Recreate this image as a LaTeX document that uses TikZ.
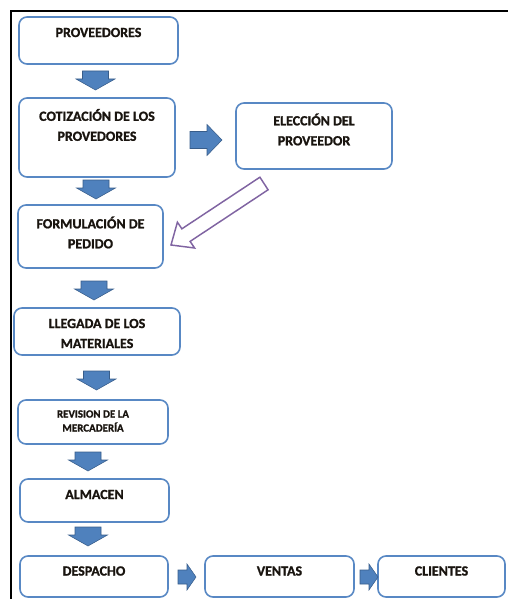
\documentclass[tikz,border=0pt]{standalone}
\usepackage{fontspec}
\setmainfont{Carlito}[BoldFeatures={FakeBold=1.2}]
\usetikzlibrary{fit}
\definecolor{boxblue}{RGB}{88,136,196}
\definecolor{arrowfill}{RGB}{79,129,189}
\definecolor{arrowedge}{RGB}{56,93,138}
\definecolor{violet}{RGB}{128,100,162}
\definecolor{txt}{RGB}{25,20,15}
\tikzset{
  box/.style={draw=boxblue, line width=1.2pt, rounded corners=6pt, fill=white, inner sep=0pt},
  lbl/.style={font=\bfseries\fontsize{10.5pt}{15pt}\selectfont, text=txt, align=center, inner sep=0pt},
  smalllbl/.style={font=\bfseries\fontsize{8.2pt}{10.5pt}\selectfont, text=txt, align=center, inner sep=0pt},
  blockarrow/.style={fill=arrowfill, draw=arrowedge, line width=0.4pt, line join=miter},
  downarrow/.pic={\draw[blockarrow] (-13,0) -- (13,0) -- (13,8) -- (19.5,8) -- (0,19) -- (-19.5,8) -- (-13,8) -- cycle;},
  rightarrow/.pic={\draw[blockarrow] (0,-8.5) -- (17,-8.5) -- (17,-15.5) -- (32,0) -- (17,15.5) -- (17,8.5) -- (0,8.5) -- cycle;},
  smallright/.pic={\draw[blockarrow] (0,-7) -- (9,-7) -- (9,-13) -- (18,0) -- (9,13) -- (9,7) -- (0,7) -- cycle;}
}
\begin{document}
\begin{tikzpicture}[x=0.75pt,y=-0.75pt]
\useasboundingbox (0,0) rectangle (507,599);
% frame
\draw[line width=1.6pt, black] (11,600) -- (11,11) -- (508,11);

% boxes
\node[box, fit={(19,17)(178,64)}] (prov) {};
\node[box, fit={(19,98)(175,177)}] (cot) {};
\node[box, fit={(236,103)(392,169)}] (ele) {};
\node[box, fit={(18,205)(163,268)}] (form) {};
\node[box, fit={(14,308)(180,355)}] (lleg) {};
\node[box, fit={(18,400)(168,444)}] (rev) {};
\node[box, fit={(20,479)(169,522)}] (alm) {};
\node[box, fit={(20,556)(168,597)}] (desp) {};
\node[box, fit={(205,556)(354,597)}] (vent) {};
\node[box, fit={(378,556)(505,597)}] (cli) {};

% labels
\node[lbl] (tprov) at (98.5,32.5) {PROVEEDORES};
\node[lbl] (tcot) at (97,125) {COTIZACIÓN DE LOS\\PROVEDORES};
\node[lbl] (tele) at (314,129.5) {ELECCIÓN DEL\\PROVEEDOR};
\node[lbl] (tform) at (90.5,232.5) {FORMULACIÓN DE\\PEDIDO};
\node[lbl] (tlleg) at (97,333.5) {LLEGADA DE LOS\\MATERIALES};
\node[smalllbl] (trev) at (93,421) {REVISION DE LA\\MERCADERÍA};
\node[lbl] (talm) at (94.5,494.5) {ALMACEN};
\node[lbl] (tdesp) at (94,571) {DESPACHO};
\node[lbl] (tvent) at (279.5,571) {VENTAS};
\node[lbl] (tcli) at (441.5,571) {CLIENTES};

% down arrows
\pic at (95.5,71) {downarrow};
\pic at (96,180) {downarrow};
\pic at (94,281) {downarrow};
\pic at (96.5,371) {downarrow};
\pic at (88,452) {downarrow};
\pic at (88,527) {downarrow};

% right arrows
\pic at (190,140) {rightarrow};
\pic at (178,577) {smallright};
\pic at (360,577) {smallright};

% hollow purple arrow from ele to form
\draw[violet, line width=1.1pt, fill=white, line join=miter]
  (259.9,177.2) -- (268.1,189.8) -- (190.1,241.4) -- (194.6,248) -- (171,245)
  -- (177.4,222.2) -- (181.9,228.8) -- cycle;
\end{tikzpicture}
\end{document}
